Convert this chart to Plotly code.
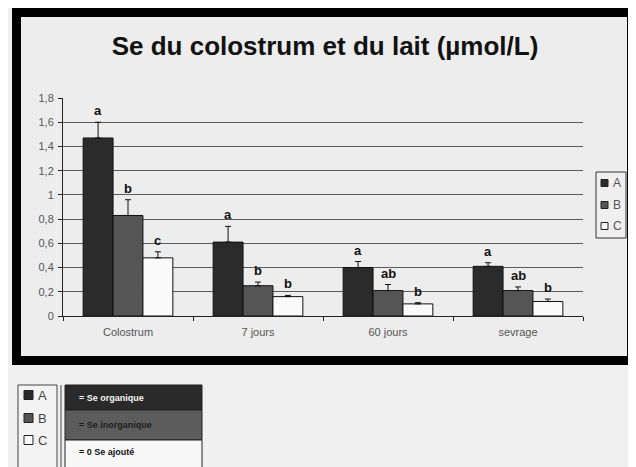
import plotly.graph_objects as go

categories = ["Colostrum", "7 jours", "60 jours", "sevrage"]
series_names = ["A", "B", "C"]
values_A = [1.47, 0.61, 0.40, 0.41]
values_B = [0.83, 0.25, 0.21, 0.21]
values_C = [0.48, 0.16, 0.10, 0.12]
err_A = [0.13, 0.13, 0.05, 0.03]
err_B = [0.13, 0.03, 0.05, 0.03]
err_C = [0.05, 0.01, 0.01, 0.02]
letters_A = ["a", "a", "a", "a"]
letters_B = ["b", "b", "ab", "ab"]
letters_C = ["c", "b", "b", "b"]
y_ticks = [0, 0.2, 0.4, 0.6, 0.8, 1, 1.2, 1.4, 1.6, 1.8]
table_labels = ["= Se organique", "= Se inorganique", "= 0 Se ajouté"]
title_text = "Se du colostrum et du lait (µmol/L)"

# page body has an 8px margin: figure pixel = reference pixel - 8
OFF = 8
W, H = 636 - OFF, 467 - OFF
X0, X1, Y0, Y1 = 63, 583, 98, 316          # plot area in reference pixels
L, R, T, B = X0 - OFF, W - (X1 - OFF), Y0 - OFF, H - (Y1 - OFF)
pw, ph = X1 - X0, Y1 - Y0

def px(x):
    return (x - X0) / pw

def py(y):
    return (Y1 - y) / ph

colors = ["#2b2b2b", "#555555", "#fafafa"]
bw = 0.23
vals = [values_A, values_B, values_C]
errs = [err_A, err_B, err_C]
lets = [letters_A, letters_B, letters_C]

fig = go.Figure()
for j in range(3):
    xs = [i + (j - 1) * bw for i in range(len(categories))]
    fig.add_trace(go.Bar(
        x=xs, y=vals[j], width=bw, name=series_names[j],
        marker=dict(color=colors[j], line=dict(color="#111", width=1)),
        error_y=dict(type="data", array=errs[j], symmetric=False, arrayminus=[0]*4,
                     color="#111", thickness=1, width=3),
    ))
    for i in range(len(categories)):
        fig.add_annotation(x=xs[i], y=vals[j][i] + errs[j][i], text="<b>" + lets[j][i] + "</b>",
                           showarrow=False, yanchor="bottom", yshift=2,
                           font=dict(family="Liberation Sans, Arial", size=13, color="#111"))

fig.update_layout(
    width=W, height=H, margin=dict(l=L, r=R, t=T, b=B, autoexpand=False),
    barmode="overlay", separators=", ",
    paper_bgcolor="#f0f0f0", plot_bgcolor="#ededed",
    font=dict(family="Liberation Sans, Arial", color="#555"),
    title=dict(text="<b>" + title_text + "</b>", x=(325 - OFF) / W, xanchor="center", xref="container",
               y=1 - (46 - OFF) / H, yanchor="middle", yref="container",
               font=dict(family="Liberation Sans, Arial", size=26, color="#111")),
    showlegend=False,
)
fig.update_xaxes(range=[-0.5, 3.5], tickvals=list(range(4)), ticktext=categories,
                 ticks="", showline=True, linecolor="#222", linewidth=1, showgrid=False,
                 zeroline=False, tickfont=dict(size=11, color="#555"), ticklabelstandoff=6,
                 minor=dict(tickvals=[-0.5, 0.5, 1.5, 2.5, 3.5], ticks="outside", ticklen=4,
                            tickcolor="#222", showgrid=False))
fig.update_yaxes(range=[0, 1.8], tickvals=y_ticks, ticks="outside", ticklen=4, tickcolor="#222",
                 showline=True, linecolor="#222", linewidth=1, showgrid=True,
                 gridcolor="#5a5a5a", gridwidth=1, zeroline=False,
                 tickfont=dict(size=11, color="#555"), ticklabelstandoff=2)

# outer thick frame
fig.add_shape(type="rect", xref="paper", yref="paper", x0=px(16.5), x1=px(631.5), y0=py(360.5), y1=py(12.5),
              line=dict(color="#000", width=9), fillcolor="#ededed", layer="below")

# right legend (drawn)
fig.add_shape(type="rect", xref="paper", yref="paper", x0=px(596), x1=px(626), y0=py(238), y1=py(172),
              line=dict(color="#333", width=1), fillcolor="#efefef")
for k, yc in enumerate([183, 205, 226]):
    fig.add_shape(type="rect", xref="paper", yref="paper", x0=px(601), x1=px(608), y0=py(yc + 3.5), y1=py(yc - 3.5),
                  line=dict(color="#222", width=1), fillcolor=colors[k])
    fig.add_annotation(xref="paper", yref="paper", x=px(611), y=py(yc), text=series_names[k],
                       showarrow=False, xanchor="left", yanchor="middle",
                       font=dict(size=12, color="#555"))

# bottom legend box
fig.add_shape(type="rect", xref="paper", yref="paper", x0=px(18), x1=px(57), y0=py(470), y1=py(385),
              line=dict(color="#444", width=1), fillcolor="#f3f3f3", layer="below")
fig.add_shape(type="line", xref="paper", yref="paper", x0=px(61), x1=px(61), y0=py(470), y1=py(385),
              line=dict(color="#444", width=1))
for k, yc in enumerate([395, 418, 440]):
    fig.add_shape(type="rect", xref="paper", yref="paper", x0=px(24), x1=px(33), y0=py(yc + 4.5), y1=py(yc - 4.5),
                  line=dict(color="#222", width=1), fillcolor=colors[k])
    fig.add_annotation(xref="paper", yref="paper", x=px(36), y=py(yc), text=series_names[k],
                       showarrow=False, xanchor="left", yanchor="middle",
                       font=dict(size=13, color="#444"))

# table
row_edges = [385, 410, 440, 470]
row_fill = ["#2a2a2a", "#5c5c5c", "#f7f7f7"]
row_text = ["#f5f5f5", "#1e1e1e", "#111"]
for k in range(3):
    fig.add_shape(type="rect", xref="paper", yref="paper", x0=px(65), x1=px(202),
                  y0=py(row_edges[k + 1]), y1=py(row_edges[k]),
                  line=dict(color="#222", width=1), fillcolor=row_fill[k])
    fig.add_annotation(xref="paper", yref="paper", x=px(77), y=py((row_edges[k] + min(row_edges[k + 1], 467)) / 2 - (2 if k == 2 else 0)),
                       text="<b>" + table_labels[k] + "</b>", showarrow=False,
                       xanchor="left", yanchor="middle",
                       font=dict(family="Liberation Sans, Arial", size=9, color=row_text[k]))

fig.write_html("out.html")
